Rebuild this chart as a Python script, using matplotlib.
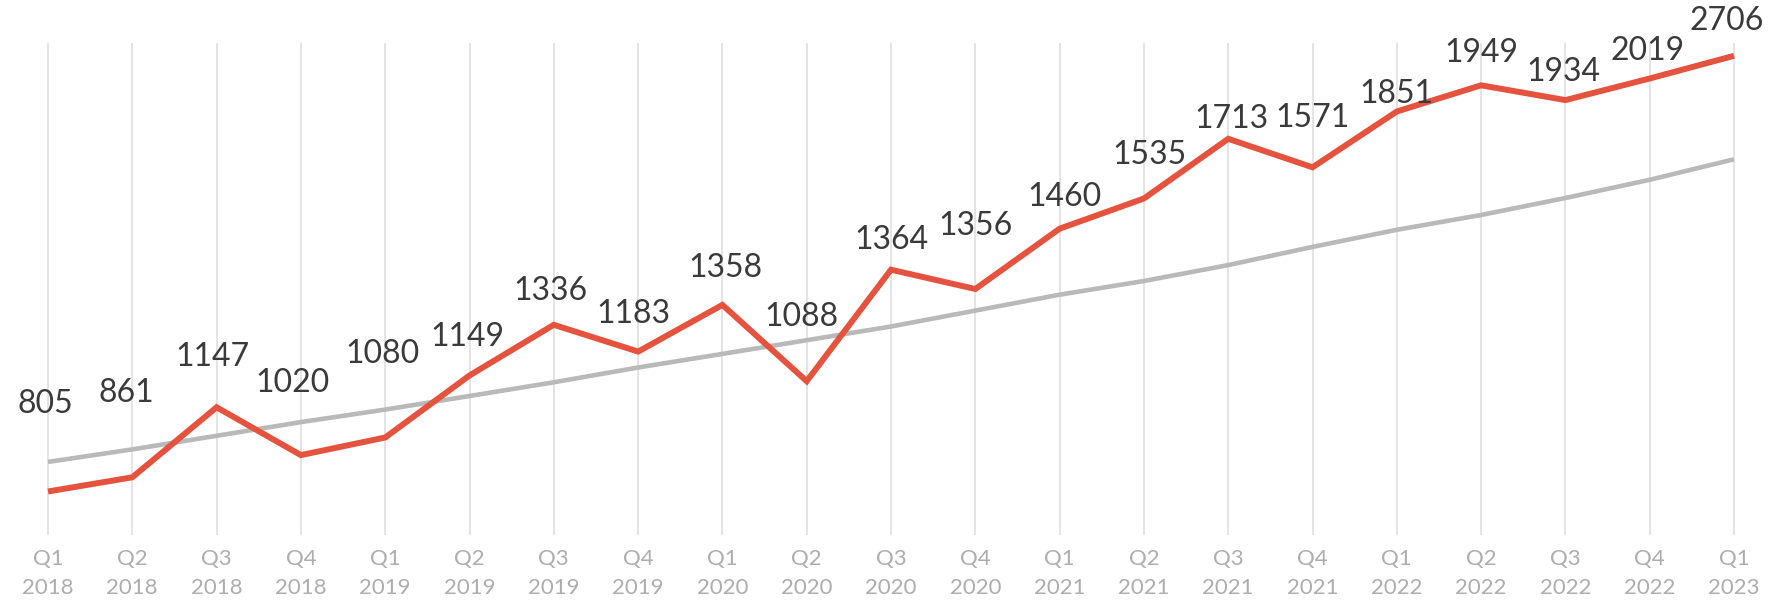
import matplotlib
matplotlib.use("Agg")
import matplotlib.pyplot as plt

quarters = ["Q1\n2018", "Q2\n2018", "Q3\n2018", "Q4\n2018",
            "Q1\n2019", "Q2\n2019", "Q3\n2019", "Q4\n2019",
            "Q1\n2020", "Q2\n2020", "Q3\n2020", "Q4\n2020",
            "Q1\n2021", "Q2\n2021", "Q3\n2021", "Q4\n2021",
            "Q1\n2022", "Q2\n2022", "Q3\n2022", "Q4\n2022",
            "Q1\n2023"]

# value labels printed on the chart
value_labels = [805, 861, 1147, 1020, 1080, 1149, 1336, 1183, 1358, 1088,
                1364, 1356, 1460, 1535, 1713, 1571, 1851, 1949, 1934, 2019, 2706]

# plotted height of the red series (arbitrary units)
red_line = [34.5, 48.7, 118.7, 70.9, 88.5, 150.5, 201.2, 174.4, 221.1, 144.8,
            256.3, 237.0, 297.3, 327.5, 387.2, 358.7, 414.5, 440.7, 425.9, 447.5, 470.2]

# plotted height of the grey trend line (arbitrary units)
trend_line = [64.1, 76.6, 90.2, 103.9, 116.4, 130.0, 143.7, 158.5, 172.1, 185.8,
              199.5, 215.4, 231.3, 245.0, 260.9, 279.1, 296.2, 311.0, 328.0, 346.2, 366.7]

# label offsets (pixels: dx, dy above the point)
label_dx = [-2, -5, -4, -7, -2, -2, -3, -4, 3, -5, 0, 0, 4, 5, 3, 0, 0, 0, -2, -2, -6]
label_dy = [77, 74, 44, 63, 73, 34, 30, 33, 32, 56, 26, 55, 28, 38, 17, 43, 15, 28, 25, 24, 31]

W, H = 1784, 600
fig = plt.figure(figsize=(W / 100, H / 100), dpi=100)
x0_px, step_px = 48, 84.3
bottom_px, top_px = 535, 43
base = 526  # pixel row that corresponds to height 0
n = len(quarters)
xmin = -x0_px / step_px
xmax = (W - x0_px) / step_px
ax = fig.add_axes([0, (H - bottom_px) / H, 1, (bottom_px - top_px) / H])
ax.set_xlim(xmin, xmax)
ax.set_ylim(base - bottom_px, base - top_px)

xs = list(range(n))
for x in xs:
    ax.axvline(x, color="#e2e2e2", lw=1.3, zorder=0)

ax.plot(xs, trend_line, color="#b9b9b9", lw=3.3, solid_capstyle="butt", zorder=2)
ax.plot(xs, red_line, color="#e5533f", lw=4.3, solid_joinstyle="miter",
        solid_capstyle="butt", zorder=3)

for x, y, lab, dx, dy in zip(xs, red_line, value_labels, label_dx, label_dy):
    ax.annotate(str(lab), (x, y), xytext=(dx * 1.1378, dy * 1.1378),
                textcoords="offset pixels", ha="center", va="center",
                fontsize=23, family="Lato", color="#3a3a3a",
                annotation_clip=False, zorder=4)

ax.set_xticks(xs)
ax.set_xticklabels(quarters, fontsize=16, family="Lato", color="#adadad",
                   linespacing=1.6)
ax.tick_params(axis="x", length=0, pad=10)
ax.set_yticks([])
for s in ax.spines.values():
    s.set_visible(False)

fig.savefig("out.png", dpi=100)
